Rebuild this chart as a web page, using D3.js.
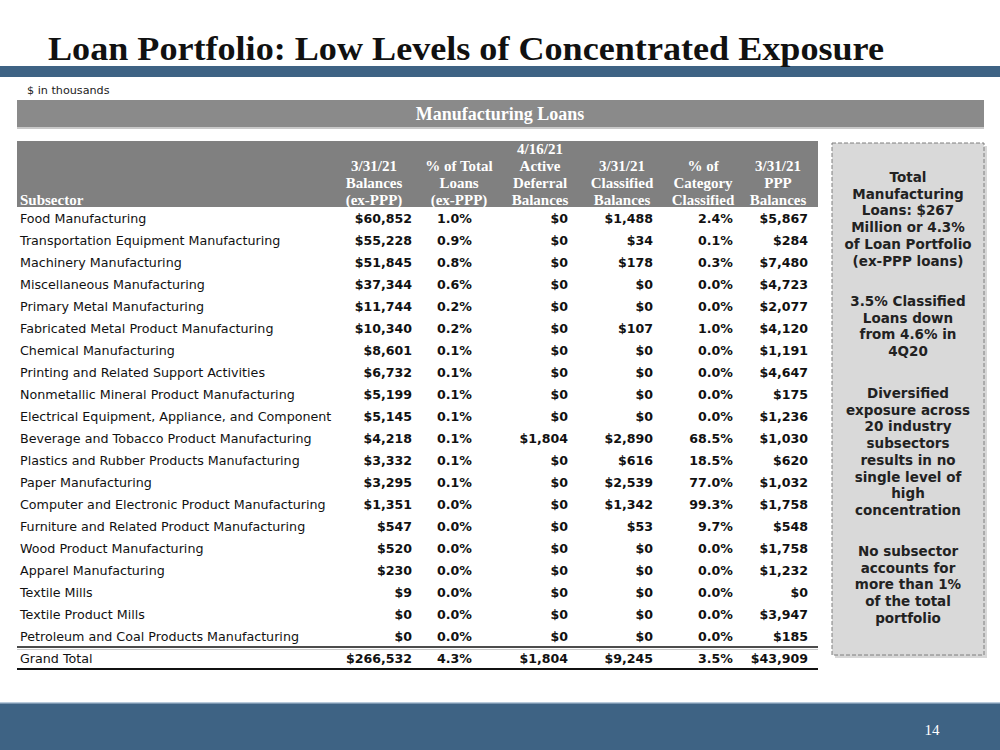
<!DOCTYPE html>
<html><head><meta charset="utf-8">
<script src="https://cdn.jsdelivr.net/npm/d3@7"></script>
<style>html,body{margin:0;padding:0;background:#fff}svg{display:block}</style>
</head><body>
<svg id="c" width="1000" height="750"></svg>
<script>
const subsectors = ["Food Manufacturing","Transportation Equipment Manufacturing","Machinery Manufacturing","Miscellaneous Manufacturing","Primary Metal Manufacturing","Fabricated Metal Product Manufacturing","Chemical Manufacturing","Printing and Related Support Activities","Nonmetallic Mineral Product Manufacturing","Electrical Equipment, Appliance, and Component","Beverage and Tobacco Product Manufacturing","Plastics and Rubber Products Manufacturing","Paper Manufacturing","Computer and Electronic Product Manufacturing","Furniture and Related Product Manufacturing","Wood Product Manufacturing","Apparel Manufacturing","Textile Mills","Textile Product Mills","Petroleum and Coal Products Manufacturing"];
const balances = [60852,55228,51845,37344,11744,10340,8601,6732,5199,5145,4218,3332,3295,1351,547,520,230,9,0,0];
const pctTotal = [1.0,0.9,0.8,0.6,0.2,0.2,0.1,0.1,0.1,0.1,0.1,0.1,0.1,0.0,0.0,0.0,0.0,0.0,0.0,0.0];
const deferral = [0,0,0,0,0,0,0,0,0,0,1804,0,0,0,0,0,0,0,0,0];
const classified = [1488,34,178,0,0,107,0,0,0,0,2890,616,2539,1342,53,0,0,0,0,0];
const pctCategory = [2.4,0.1,0.3,0.0,0.0,1.0,0.0,0.0,0.0,0.0,68.5,18.5,77.0,99.3,9.7,0.0,0.0,0.0,0.0,0.0];
const pppBalances = [5867,284,7480,4723,2077,4120,1191,4647,175,1236,1030,620,1032,1758,548,1758,1232,0,3947,185];
const totalLabel = "Grand Total";
const totals = [266532,4.3,1804,9245,3.5,43909];
const columnHeaders = [
  ["3/31/21","Balances","(ex-PPP)"],
  ["% of Total","Loans","(ex-PPP)"],
  ["4/16/21","Active","Deferral","Balances"],
  ["3/31/21","Classified","Balances"],
  ["% of","Category","Classified"],
  ["3/31/21","PPP","Balances"]
];
const columnTypes = ["$","%","$","$","%","$"];
const titleText = "Loan Portfolio: Low Levels of Concentrated Exposure";
const unitsNote = "$ in thousands";
const bannerText = "Manufacturing Loans";
const firstHeader = "Subsector";
const sideNotes = [
  ["Total","Manufacturing","Loans: $267","Million or 4.3%","of Loan Portfolio","(ex-PPP loans)"],
  ["3.5% Classified","Loans down","from 4.6% in","4Q20"],
  ["Diversified","exposure across","20 industry","subsectors","results in no","single level of","high","concentration"],
  ["No subsector","accounts for","more than 1%","of the total","portfolio"]
];
const pageNumber = "14";

const svg = d3.select("#c");
const blue = "#3e6384";
const serif = "'Liberation Serif','DejaVu Serif',serif";
const sans = "'DejaVu Sans',Verdana,sans-serif";

// top bar + title
svg.append("rect").attr("x",0).attr("y",66).attr("width",1000).attr("height",11).attr("fill",blue);
svg.append("text").attr("x",48).attr("y",60).text(titleText)
  .attr("font-family",serif).attr("font-weight","bold").attr("font-size",34)
  .attr("textLength",836).attr("lengthAdjust","spacingAndGlyphs").attr("fill","#111");
svg.append("text").attr("x",27).attr("y",94).text(unitsNote)
  .attr("font-family",sans).attr("font-size",11.2).attr("fill","#222");

// banner
svg.append("rect").attr("x",17).attr("y",100).attr("width",967).attr("height",29).attr("fill","#c9c9c9");
svg.append("rect").attr("x",17).attr("y",100).attr("width",967).attr("height",27).attr("fill","#8a8a8a");
svg.append("text").attr("x",500).attr("y",120).attr("text-anchor","middle").text(bannerText)
  .attr("font-family",serif).attr("font-weight","bold").attr("font-size",18).attr("fill","#fff");

// table header
const tableLeft = 17, tableRight = 818;
svg.append("rect").attr("x",tableLeft).attr("y",141).attr("width",tableRight-tableLeft).attr("height",66).attr("fill","#808080");

// column scale: right edges of value columns
const colRight = d3.scaleOrdinal().domain(d3.range(6)).range([412,472,568,653,733,808]);
const colCenter = d3.scaleOrdinal().domain(d3.range(6)).range([374,459,540,622,703,778]);
const headerLine = d3.scaleLinear().domain([0,3]).range([149,200]);

svg.append("text").attr("x",20).attr("y",headerLine(3)+5).text(firstHeader)
  .attr("font-family",serif).attr("font-weight","bold").attr("font-size",15).attr("fill","#fff");
columnHeaders.forEach((lines,i)=>{
  const off = 4 - lines.length;
  svg.append("g").selectAll("text").data(lines).join("text")
    .attr("x",colCenter(i)).attr("y",(d,j)=>headerLine(j+off)+5)
    .attr("text-anchor","middle").text(d=>d)
    .attr("font-family",serif).attr("font-weight","bold").attr("font-size",15).attr("fill","#fff");
});

// rows
const rowY = d3.scaleBand().domain(d3.range(21)).range([207,669]).paddingInner(0).paddingOuter(0);
const fmtD = v => "$" + d3.format(",")(v);
const fmtP = v => d3.format(".1f")(v) + "%";
const rowsData = subsectors.map((s,i)=>({name:s, vals:[balances[i],pctTotal[i],deferral[i],classified[i],pctCategory[i],pppBalances[i]]}));
rowsData.push({name:totalLabel, vals:totals});

const rows = svg.append("g").selectAll("g").data(rowsData).join("g")
  .attr("transform",(d,i)=>`translate(0,${rowY(i)+rowY.bandwidth()/2})`);
rows.append("text").attr("x",20).attr("y",4.5).text(d=>d.name)
  .attr("font-family",sans).attr("font-size",12.7).attr("fill","#111");
rows.each(function(d){
  d3.select(this).selectAll("text.v").data(d.vals).join("text").attr("class","v")
    .attr("x",(v,j)=>colRight(j)).attr("y",4.5).attr("text-anchor","end")
    .text((v,j)=>columnTypes[j]==="$"?fmtD(v):fmtP(v))
    .attr("font-family",sans).attr("font-weight","bold").attr("font-size",12.6).attr("fill","#111");
});
// total lines
const yTotTop = rowY(20), yTotBot = rowY(20)+rowY.bandwidth();
svg.append("line").attr("x1",tableLeft).attr("x2",tableRight).attr("y1",yTotTop).attr("y2",yTotTop).attr("stroke","#111").attr("stroke-width",1.6);
svg.append("line").attr("x1",tableLeft).attr("x2",tableRight).attr("y1",yTotTop+2.5).attr("y2",yTotTop+2.5).attr("stroke","#bbb").attr("stroke-width",0.8);
svg.append("line").attr("x1",tableLeft).attr("x2",tableRight).attr("y1",yTotBot).attr("y2",yTotBot).attr("stroke","#111").attr("stroke-width",1.8);

// side box
const bx=832, by=143, bw=152, bh=512;
svg.append("rect").attr("x",bx+3).attr("y",by+3).attr("width",bw).attr("height",bh).attr("fill","#bdbdbd").attr("opacity",0.6);
svg.append("rect").attr("x",bx).attr("y",by).attr("width",bw).attr("height",bh).attr("fill","#d9d9d9")
  .attr("stroke","#7f7f7f").attr("stroke-width",1).attr("stroke-dasharray","4,2");
const noteStarts = [177,301,393,551];
const lineH = 16.7;
sideNotes.forEach((lines,k)=>{
  svg.append("g").selectAll("text").data(lines).join("text")
    .attr("x",bx+bw/2).attr("y",(d,j)=>noteStarts[k]+j*lineH+5).attr("text-anchor","middle").text(d=>d)
    .attr("font-family",sans).attr("font-weight","bold").attr("font-size",13.5).attr("fill","#222");
});

// footer
svg.append("rect").attr("x",0).attr("y",703).attr("width",1000).attr("height",47).attr("fill",blue);
svg.append("rect").attr("x",0).attr("y",702).attr("width",1000).attr("height",1.5).attr("fill","#b8cadb");
svg.append("text").attr("x",932).attr("y",735).attr("text-anchor","middle").text(pageNumber)
  .attr("font-family",serif).attr("font-size",15).attr("fill","#fff");
</script>
</body></html>
